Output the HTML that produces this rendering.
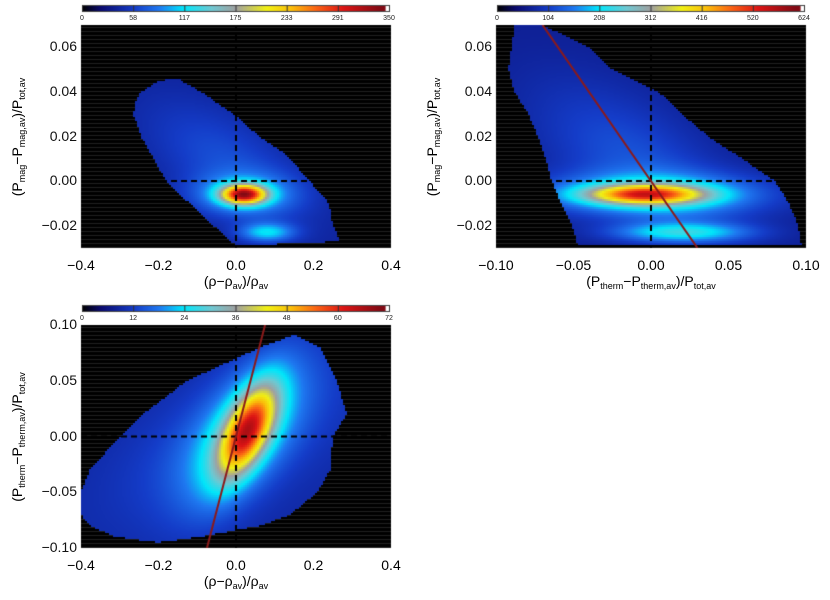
<!DOCTYPE html>
<html><head><meta charset="utf-8">
<style>
body{margin:0;background:#fff;width:830px;height:600px;position:relative;overflow:hidden;font-family:"Liberation Sans",sans-serif;}
canvas{position:absolute;left:0;top:0;}
.t{position:absolute;font-size:15px;color:#111;white-space:nowrap;}
.cb{position:absolute;font-size:7px;color:#222;}
.yt{position:absolute;font-size:14px;white-space:nowrap;transform:translate(-50%,-50%) rotate(-90deg);}
.xt{position:absolute;font-size:14px;white-space:nowrap;transform:translateX(-50%);}
sub{font-size:9px;vertical-align:-3px;}
</style></head>
<body>
<canvas id="cv" width="830" height="600"></canvas>
<div id="labels"></div>
<script>
// ---------- data ----------
const p1Xticks=["−0.4","−0.2","0.0","0.2","0.4"], p1XtickVals=[-0.4,-0.2,0,0.2,0.4];
const p1Yticks=["−0.02","0.00","0.02","0.04","0.06"], p1YtickVals=[-0.02,0,0.02,0.04,0.06];
const p1Cb=["0","58","117","175","233","291","350"];
const p1Support=[[-0.26,0.035],[-0.245,0.04],[-0.2,0.045],[-0.15,0.046],[-0.09,0.04],[-0.006,0.03],[0.06,0.02],[0.13,0.012],[0.19,0.0],[0.24,-0.01],[0.25,-0.02],[0.27,-0.027],[0.0,-0.029],[-0.058,-0.02],[-0.12,-0.01],[-0.18,0.0],[-0.245,0.02],[-0.265,0.03]];
// components: cx, cy, sx, sy, rho, amplitude
const p1Comp=[[0.02,-0.006,0.04,0.003,0,220],[0.02,-0.006,0.09,0.0065,0,60],[0.08,-0.023,0.05,0.003,0,70],[-0.02,0.008,0.15,0.02,-0.6,30]];
const p1Base=38;

const p2Xticks=["−0.10","−0.05","0.00","0.05","0.10"], p2XtickVals=[-0.1,-0.05,0,0.05,0.1];
const p2Yticks=p1Yticks, p2YtickVals=p1YtickVals;
const p2Cb=["0","104","208","312","416","520","624"];
const p2Support=[[-0.088,0.07],[-0.07,0.07],[-0.04,0.06],[-0.025,0.05],[0.005,0.04],[0.02,0.03],[0.037,0.02],[0.059,0.01],[0.08,0.0],[0.089,-0.01],[0.095,-0.02],[0.097,-0.029],[-0.047,-0.029],[-0.051,-0.02],[-0.058,-0.01],[-0.064,0.0],[-0.068,0.01],[-0.073,0.02],[-0.079,0.03],[-0.088,0.04],[-0.092,0.05],[-0.09,0.06]];
const p2Comp=[[-0.004,-0.006,0.026,0.003,0,300],[0.0,-0.006,0.05,0.0065,0,140],[0.02,-0.023,0.03,0.003,0,140],[-0.01,0.008,0.045,0.025,-0.6,60]];
const p2Base=65;
const p2Line=[[-0.07,0.07],[0.03,-0.03]];

const p3Xticks=p1Xticks, p3XtickVals=p1XtickVals;
const p3Yticks=["−0.10","−0.05","0.00","0.05","0.10"], p3YtickVals=[-0.1,-0.05,0,0.05,0.1];
const p3Cb=["0","12","24","36","48","60","72"];
const p3Support=[[0.063,0.08],[0.15,0.091],[0.217,0.08],[0.26,0.05],[0.286,0.02],[0.25,0.0],[0.243,-0.03],[0.21,-0.05],[0.14,-0.07],[0.063,-0.08],[-0.093,-0.09],[-0.2,-0.095],[-0.31,-0.09],[-0.377,-0.08],[-0.4,-0.07],[-0.4,-0.05],[-0.377,-0.03],[-0.3,0.0],[-0.24,0.02],[-0.127,0.05]];
const p3Comp=[[0.03,0.005,0.05,0.028,0.6,36],[0.02,0.003,0.1,0.045,0.6,15],[0.0,0.0,0.2,0.05,0.6,6]];
const p3Base=9;
const p3Line=[[-0.075,-0.1],[0.075,0.1]];

const panels=[
 {name:"panel-pmag-vs-rho",L:81,T:25,W:310,H:223,xr:[-0.4,0.4],yr:[-0.03,0.07],xt:p1Xticks,xv:p1XtickVals,yt:p1Yticks,yv:p1YtickVals,cb:p1Cb,max:350,sup:p1Support,comp:p1Comp,base:p1Base,line:null,
  xlab:'(ρ−ρ<sub>av</sub>)/ρ<sub>av</sub>',ylab:'(P<sub>mag</sub>−P<sub>mag,av</sub>)/P<sub>tot,av</sub>'},
 {name:"panel-pmag-vs-ptherm",L:496,T:25,W:310,H:223,xr:[-0.1,0.1],yr:[-0.03,0.07],xt:p2Xticks,xv:p2XtickVals,yt:p2Yticks,yv:p2YtickVals,cb:p2Cb,max:624,sup:p2Support,comp:p2Comp,base:p2Base,line:p2Line,
  xlab:'(P<sub>therm</sub>−P<sub>therm,av</sub>)/P<sub>tot,av</sub>',ylab:'(P<sub>mag</sub>−P<sub>mag,av</sub>)/P<sub>tot,av</sub>'},
 {name:"panel-ptherm-vs-rho",L:81,T:325,W:310,H:223,xr:[-0.4,0.4],yr:[-0.1,0.1],xt:p3Xticks,xv:p3XtickVals,yt:p3Yticks,yv:p3YtickVals,cb:p3Cb,max:72,sup:p3Support,comp:p3Comp,base:p3Base,line:p3Line,
  xlab:'(ρ−ρ<sub>av</sub>)/ρ<sub>av</sub>',ylab:'(P<sub>therm</sub>−P<sub>therm,av</sub>)/P<sub>tot,av</sub>'}
];
// ---------- colormap ----------
const stops=[[0,[0,0,0]],[0.06,[10,10,110]],[0.17,[20,60,200]],[0.25,[30,120,240]],[0.33,[0,230,250]],[0.42,[110,200,210]],[0.5,[160,160,160]],[0.6,[240,240,20]],[0.68,[250,190,10]],[0.76,[250,100,20]],[0.85,[220,20,20]],[0.97,[130,10,20]],[0.985,[130,10,20]],[0.99,[255,255,255]],[1,[255,255,255]]];
function cmap(f){f=Math.max(0,Math.min(0.98,f));for(let i=1;i<stops.length;i++){if(f<=stops[i][0]){const a=stops[i-1],b=stops[i];const t=(f-a[0])/(b[0]-a[0]||1);return a[1].map((v,k)=>Math.round(v+(b[1][k]-v)*t));}}return stops[stops.length-1][1];}
function cmapBar(f){for(let i=1;i<stops.length;i++){if(f<=stops[i][0]){const a=stops[i-1],b=stops[i];const t=(f-a[0])/(b[0]-a[0]||1);return a[1].map((v,k)=>Math.round(v+(b[1][k]-v)*t));}}return stops[stops.length-1][1];}
function inside(pt,poly){let c=false;for(let i=0,j=poly.length-1;i<poly.length;j=i++){const [xi,yi]=poly[i],[xj,yj]=poly[j];if(((yi>pt[1])!=(yj>pt[1]))&&(pt[0]<(xj-xi)*(pt[1]-yi)/(yj-yi)+xi))c=!c;}return c;}
const cv=document.getElementById('cv'),ctx=cv.getContext('2d');
const lab=document.getElementById('labels');
function add(cls,html,x,y,name){const d=document.createElement('div');d.className=cls;d.innerHTML=html;d.style.left=x+'px';d.style.top=y+'px';
 
 
 lab.appendChild(d);return d;}
panels.forEach(p=>{
 const sx=v=>p.L+(v-p.xr[0])/(p.xr[1]-p.xr[0])*p.W;
 const sy=v=>p.T+p.H-(v-p.yr[0])/(p.yr[1]-p.yr[0])*p.H;
 ctx.fillStyle='#000';ctx.fillRect(p.L,p.T,p.W,p.H);
 ctx.fillStyle='rgba(255,255,255,0.13)';
 for(let y=p.T+2;y<p.T+p.H;y+=4)ctx.fillRect(p.L,y,p.W,1);
 const cs=2;
 for(let py=p.T;py<p.T+p.H;py+=cs)for(let px=p.L;px<p.L+p.W;px+=cs){
  const x=p.xr[0]+(px+cs/2-p.L)/p.W*(p.xr[1]-p.xr[0]);
  const y=p.yr[0]+(p.T+p.H-py-cs/2)/p.H*(p.yr[1]-p.yr[0]);
  if(!inside([x,y],p.sup))continue;
  let v=p.base;
  p.comp.forEach(c=>{const u=(x-c[0])/c[2],w=(y-c[1])/c[3],r=c[4];v+=c[5]*Math.exp(-(u*u-2*r*u*w+w*w)/(2*(1-r*r)));});
  const col=cmap(v/p.max);ctx.fillStyle='rgb('+col+')';ctx.fillRect(px,py,cs,cs);
 }
 ctx.save();ctx.beginPath();ctx.rect(p.L,p.T,p.W,p.H);ctx.clip();
 ctx.strokeStyle='#000';ctx.lineWidth=2;ctx.setLineDash([6,4]);
 ctx.beginPath();ctx.moveTo(sx(0),p.T);ctx.lineTo(sx(0),p.T+p.H);ctx.moveTo(p.L,sy(0));ctx.lineTo(p.L+p.W,sy(0));ctx.stroke();
 ctx.setLineDash([]);
 if(p.line){ctx.strokeStyle='#8b1a1a';ctx.lineWidth=2;ctx.beginPath();ctx.moveTo(sx(p.line[0][0]),sy(p.line[0][1]));ctx.lineTo(sx(p.line[1][0]),sy(p.line[1][1]));ctx.stroke();}
 ctx.restore();
 const cbT=p.T-20,cbL=p.L+1,cbW=p.W-2;
 for(let i=0;i<cbW;i++){ctx.fillStyle='rgb('+cmapBar(i/(cbW-1))+')';ctx.fillRect(cbL+i,cbT,1,7);}
 ctx.strokeStyle='#444';ctx.lineWidth=1;ctx.strokeRect(cbL+0.5,cbT+0.5,cbW-1,6);
 p.cb.forEach((t,i)=>{const x=cbL+i*(cbW-1)/(p.cb.length-1);ctx.fillStyle='#333';ctx.fillRect(x,cbT,1,7);
  const d=add('cb',t,x,cbT+10,'colorbar-tick-label');d.style.transform='translateX(-50%)';});
 p.xt.forEach((t,i)=>add('xt',t,sx(p.xv[i]),p.T+p.H+9,'x-tick-label'));
 p.yt.forEach((t,i)=>{const d=add('t',t,0,sy(p.yv[i])-9,'y-tick-label');d.style.left='auto';d.style.right=(830-p.L+4)+'px';d.style.fontSize='14px';});
 add('xt',p.xlab,p.L+p.W/2,p.T+p.H+25,'x-axis-title');
 add('yt',p.ylab,p.L-63,p.T+p.H/2,'y-axis-title');
});
</script>
</body></html>
